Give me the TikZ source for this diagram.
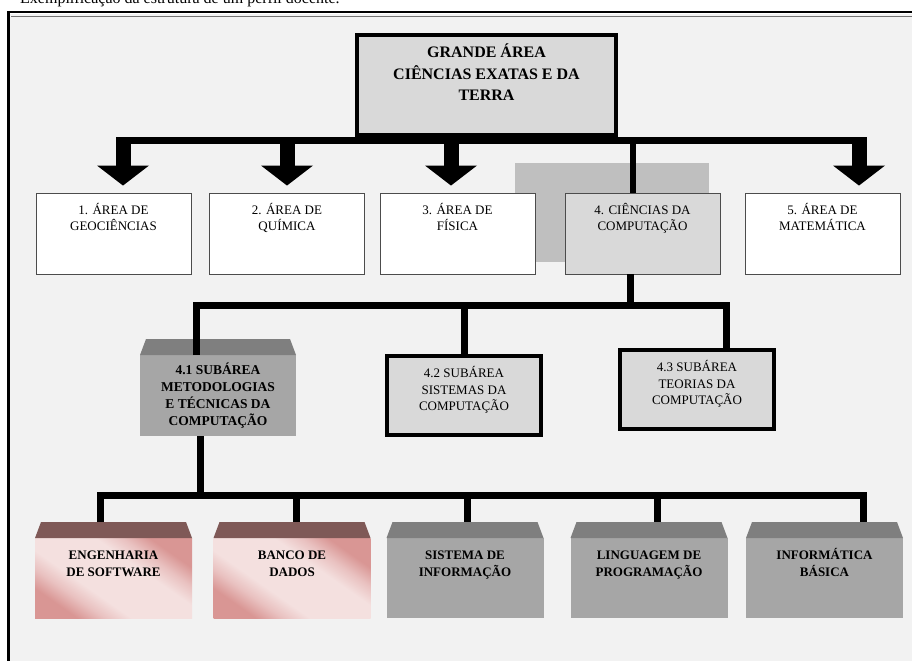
\documentclass[tikz,border=0pt]{standalone}
\usepackage{fontspec}
\setmainfont{Liberation Serif}
\usetikzlibrary{arrows.meta, calc}
\definecolor{framebg}{HTML}{F2F2F2}
\definecolor{boxgray}{HTML}{D9D9D9}
\definecolor{shadowgray}{HTML}{BFBFBF}
\definecolor{bodygray}{HTML}{A6A6A6}
\definecolor{bandgray}{HTML}{7F7F7F}
\definecolor{pinkdark}{HTML}{D99694}
\definecolor{pinkmid}{HTML}{E9C1C0}
\definecolor{pinklight}{HTML}{F4E0DF}
\definecolor{bandpink}{HTML}{7F5957}
\pgfdeclareverticalshading{pinkfade}{100bp}{color(0bp)=(pinkdark); color(26bp)=(pinkdark); color(33bp)=(pinkmid); color(40bp)=(pinklight); color(60bp)=(pinklight); color(67bp)=(pinkmid); color(74bp)=(pinkdark); color(100bp)=(pinkdark)}

\tikzset{
  areabox/.style={draw=black!70, line width=0.9pt, fill=white, minimum width=155pt, minimum height=81pt, inner sep=0pt},
  subbox/.style={draw=black, line width=4pt, fill=boxgray, minimum width=154pt, minimum height=79pt, inner sep=0pt},
  cubebox/.style={minimum width=157pt, minimum height=96pt, inner sep=0pt, outer sep=0pt},
  intext/.style={anchor=north, align=center, inner sep=0pt},
  areatext/.style={intext, font=\fontsize{13}{16}\selectfont},
  cubetext/.style={intext, font=\bfseries\fontsize{13}{17}\selectfont},
  bus/.style={line width=7pt, line join=miter},
  bigarrow/.style={line width=15pt, -{Triangle[width=52pt, length=20pt, line width=0pt]}, shorten >=7pt},
}

\begin{document}
\begin{tikzpicture}[x=1pt,y=-1pt]
\useasboundingbox (0,0) rectangle (912,661);
% page and frame
\fill[white] (0,0) rectangle (912,661);
\fill[framebg] (9,14) rectangle (912,661);
\draw[line width=1.5pt] (8,12) -- (912,12);
\draw[black!55, line width=0.8pt] (11,16) -- (912,16);
\draw[line width=3pt] (8.5,11) -- (8.5,661);
\node[anchor=base west, inner sep=0pt, font=\fontsize{16}{18}\selectfont] (caption) at (20,4) {Exemplificação da estrutura de um perfil docente.};

% grande area
\node[subbox, minimum width=259pt, minimum height=100pt] (grande) at (486.5,85) {};
\node[intext, font=\bfseries\fontsize{16}{21.5}\selectfont] (grandetxt) at ($(grande.north)+(0,9.3)$) {\strut GRANDE ÁREA\\CIÊNCIAS EXATAS E DA\\TERRA};

% areas
\fill[shadowgray] (515,163) rectangle (709,262);
\node[areabox] (geo) at (113.5,233.5) {};
\node[areabox] (qui) at (287,233.5) {};
\node[areabox] (fis) at (457.5,233.5) {};
\node[areabox, fill=boxgray] (comp) at (642.5,233.5) {};
\node[areabox] (mat) at (822.5,233.5) {};
\node[areatext] (geotxt) at ($(geo.north)+(0,10.5)$) {\strut 1. ÁREA DE\\GEOCIÊNCIAS};
\node[areatext] (quitxt) at ($(qui.north)+(0,10.5)$) {\strut 2. ÁREA DE\\QUÍMICA};
\node[areatext] (fistxt) at ($(fis.north)+(0,10.5)$) {\strut 3. ÁREA DE\\FÍSICA};
\node[areatext] (comptxt) at ($(comp.north)+(0,10.5)$) {\strut 4. CIÊNCIAS DA\\COMPUTAÇÃO};
\node[areatext] (mattxt) at ($(mat.north)+(0,10.5)$) {\strut 5. ÁREA DE\\MATEMÁTICA};

% subareas
\node[cubebox, minimum width=156pt, minimum height=97pt] (metod) at (218,387.5) {};
\node[subbox] (sist) at (464,395.5) {};
\node[subbox] (teor) at (697,389.5) {};

% linhas
\node[cubebox] (eng) at (113.5,570) {};
\node[cubebox] (banco) at (292,570) {};
\node[cubebox] (sisinf) at (465,570) {};
\node[cubebox] (ling) at (649,570) {};
\node[cubebox] (infbas) at (824.5,570) {};

\foreach \n in {metod,sisinf,ling,infbas}{
  \fill[bodygray] ($(\n.north west)+(0,16)$) rectangle (\n.south east);
  \fill[bandgray] ($(\n.north west)+(0,16)$) -- ($(\n.north west)+(6,0)$) -- ($(\n.north east)+(-6,0)$) -- ($(\n.north east)+(0,16)$) -- cycle;
}
\foreach \n in {eng,banco}{
  \shade[shading=pinkfade, shading angle=-35] ($(\n.north west)+(0,16)$) rectangle (\n.south east);
  \fill[bandpink] ($(\n.north west)+(0,16)$) -- ($(\n.north west)+(6,0)$) -- ($(\n.north east)+(-6,0)$) -- ($(\n.north east)+(0,16)$) -- cycle;
}

\node[intext, font=\bfseries\fontsize{13.5}{17}\selectfont] (metodtxt) at ($(metod.north)+(0,23.6)$) {\strut 4.1 SUBÁREA\\METODOLOGIAS\\E TÉCNICAS DA\\COMPUTAÇÃO};
\node[intext, font=\fontsize{13}{16.5}\selectfont] (sisttxt) at ($(sist.north)+(0,11.8)$) {\strut 4.2 SUBÁREA\\SISTEMAS DA\\COMPUTAÇÃO};
\node[intext, font=\fontsize{13}{16.5}\selectfont] (teortxt) at ($(teor.north)+(0,11.8)$) {\strut 4.3 SUBÁREA\\TEORIAS DA\\COMPUTAÇÃO};
\node[cubetext] (engtxt) at ($(eng.north)+(0,25.4)$) {\strut ENGENHARIA\\DE SOFTWARE};
\node[cubetext] (bancotxt) at ($(banco.north)+(0,25.4)$) {\strut BANCO DE\\DADOS};
\node[cubetext] (sisinftxt) at ($(sisinf.north)+(0,25.4)$) {\strut SISTEMA DE\\INFORMAÇÃO};
\node[cubetext] (lingtxt) at ($(ling.north)+(0,25.4)$) {\strut LINGUAGEM DE\\PROGRAMAÇÃO};
\node[cubetext] (infbastxt) at ($(infbas.north)+(0,25.4)$) {\strut INFORMÁTICA\\BÁSICA};

% first level
\coordinate (a1) at (123,140.5);
\coordinate (a2) at (287,140.5);
\coordinate (a3) at (451,140.5);
\coordinate (a4) at (633,140.5);
\coordinate (a5) at (859,140.5);
\draw[bus] (a1) -- (a5);
\draw[bigarrow] ($(a1)+(0,-3.5)$) -- (a1 |- geo.north);
\draw[bigarrow] ($(a2)+(0,-3.5)$) -- (a2 |- qui.north);
\draw[bigarrow] ($(a3)+(0,-3.5)$) -- (a3 |- fis.north);
\draw[bigarrow] ($(a5)+(0,-3.5)$) -- (a5 |- mat.north);
\draw[line width=6pt] (a4) -- (a4 |- comp.north);

% second level
\coordinate (h2) at (630,305);
\coordinate (j1) at (196,305);
\coordinate (j2) at (464,305);
\coordinate (j3) at (726,305);
\draw[bus] (h2 |- comp.south) -- (h2);
\draw[bus] ($(j1 |- metod.north)+(0,16)$) -- (j1) -- (j3) -- (j3 |- teor.north);
\draw[bus] (j2) -- (j2 |- sist.north);

% third level
\coordinate (h3) at (200,495);
\coordinate (k1) at (100,495);
\coordinate (k2) at (296,495);
\coordinate (k3) at (467,495);
\coordinate (k4) at (657,495);
\coordinate (k5) at (863,495);
\draw[bus] (h3 |- metod.south) -- (h3);
\draw[bus] (k1 |- eng.north) -- (k1) -- (k5) -- (k5 |- infbas.north);
\draw[bus] (k2) -- (k2 |- banco.north);
\draw[bus] (k3) -- (k3 |- sisinf.north);
\draw[bus] (k4) -- (k4 |- ling.north);
\end{tikzpicture}
\end{document}
